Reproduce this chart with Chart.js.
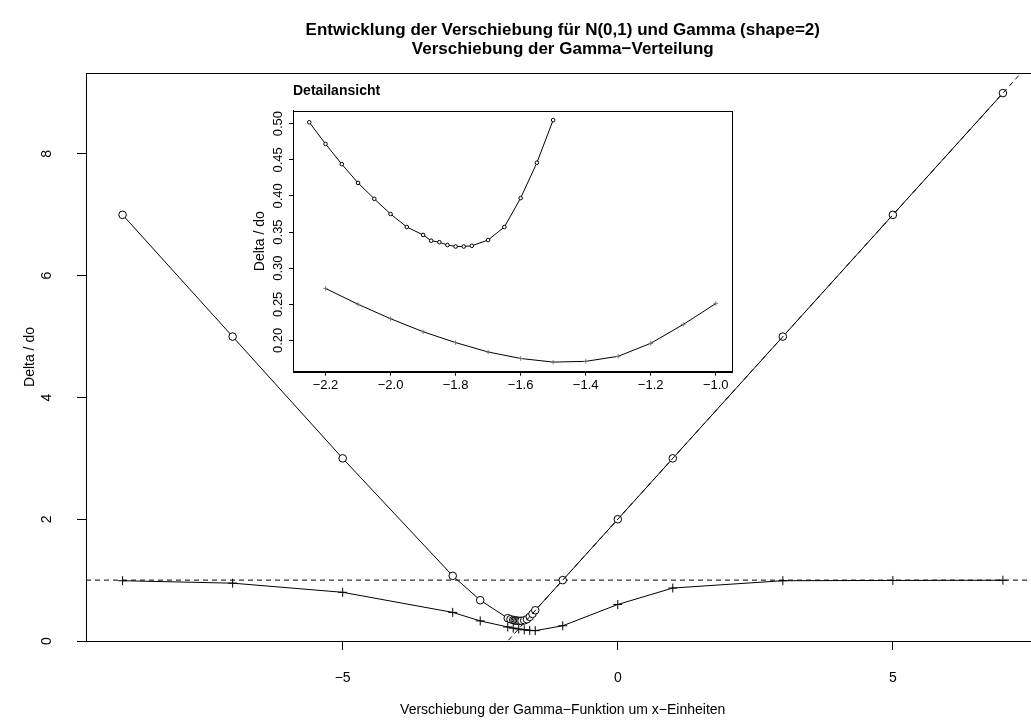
<!DOCTYPE html>
<html><head><meta charset="utf-8">
<script src="https://cdn.jsdelivr.net/npm/chart.js@4/dist/chart.umd.min.js"></script>
<style>
html,body{margin:0;padding:0;background:#fff;overflow:hidden;width:1031px;height:720px;}
#wrap{position:relative;width:1045px;height:720px;}
canvas{position:absolute;left:0;top:0;}
</style></head><body>
<div id="wrap"><canvas id="main" width="1045" height="720"></canvas><canvas id="inset" width="1045" height="720"></canvas></div>
<script>
// ---- data ----
const mainTitle = ['Entwicklung der Verschiebung für N(0,1) und Gamma (shape=2)', 'Verschiebung der Gamma\u2212Verteilung'];
const xLabel = 'Verschiebung der Gamma\u2212Funktion um x\u2212Einheiten';
const yLabel = 'Delta / do';
const insetTitle = 'Detailansicht';

const mainUpperX = [-9, -7, -5, -3, -2.5, -2.0, -1.95, -1.9, -1.875, -1.85, -1.825, -1.8, -1.775, -1.75, -1.7, -1.65, -1.6, -1.55, -1.5, -1, 0, 1, 3, 5, 7];
const mainUpperY = [7.0, 5.0, 3.0, 1.07, 0.67, 0.375, 0.357, 0.346, 0.338, 0.336, 0.332, 0.330, 0.330, 0.331, 0.339, 0.357, 0.397, 0.446, 0.505, 1.0, 2.0, 3.0, 5.0, 7.0, 9.0];
const mainLowerX = [-9, -7, -5, -3, -2.5, -2.0, -1.9, -1.8, -1.7, -1.6, -1.5, -1, 0, 1, 3, 5, 7];
const mainLowerY = [0.99, 0.95, 0.80, 0.47, 0.33, 0.230, 0.212, 0.197, 0.184, 0.175, 0.170, 0.25, 0.60, 0.87, 0.99, 0.995, 0.998];

const insetUpperX = [-2.25, -2.2, -2.15, -2.1, -2.05, -2.0, -1.95, -1.9, -1.875, -1.85, -1.825, -1.8, -1.775, -1.75, -1.7, -1.65, -1.6, -1.55, -1.5];
const insetUpperY = [0.502, 0.472, 0.444, 0.418, 0.396, 0.375, 0.357, 0.346, 0.338, 0.336, 0.332, 0.330, 0.330, 0.331, 0.339, 0.357, 0.397, 0.446, 0.505];
const insetLowerX = [-2.2, -2.1, -2.0, -1.9, -1.8, -1.7, -1.6, -1.5, -1.4, -1.3, -1.2, -1.1, -1.0];
const insetLowerY = [0.272, 0.250, 0.230, 0.212, 0.197, 0.184, 0.175, 0.170, 0.171, 0.178, 0.196, 0.222, 0.251];

const refLevel = 1;          // horizontal dashed reference line
const ablineIntercept = 2;   // dashed line y = a + b*x
const ablineSlope = 1;

const mainXTicks = [-5, 0, 5];
const mainYTicks = [0, 2, 4, 6, 8];
const insetXTicks = [-2.2, -2.0, -1.8, -1.6, -1.4, -1.2, -1.0];
const insetYTicks = [0.20, 0.25, 0.30, 0.35, 0.40, 0.45, 0.50];

// ---- helpers ----
const FONT = "'Liberation Sans', Arial, Helvetica, sans-serif";
const zip = (xs, ys) => xs.map((x, i) => ({x, y: ys[i]}));
const minus = s => s.replace('-', '\u2212');
const mainRange = {xMin: -9.665, xMax: 7.665, yMin: 0, yMax: 9.33};
const insetRange = {xMin: -2.3, xMax: -0.95, yMin: 0.1567, yMax: 0.518};

function fixedTicks(list) {
  return function(scale) { scale.ticks = list.map(v => ({value: v})); };
}

const framePlugin = {
  id: 'frame',
  afterDraw(chart, args, opts) {
    const {ctx, chartArea: a} = chart;
    ctx.save();
    ctx.strokeStyle = '#000';
    ctx.lineWidth = 1;
    ctx.strokeRect(Math.round(a.left) + 0.5, Math.round(a.top) + 0.5, Math.round(a.right - a.left), Math.round(a.bottom - a.top));
    // rotated y tick labels (R style, las=0)
    const ys = chart.scales.y;
    ctx.fillStyle = '#000';
    ctx.font = opts.size + 'px ' + FONT;
    ctx.textAlign = 'center';
    ctx.textBaseline = 'middle';
    ys.ticks.forEach(t => {
      const py = ys.getPixelForValue(t.value);
      ctx.save();
      ctx.translate(opts.x, py);
      ctx.rotate(-Math.PI / 2);
      ctx.fillText(opts.fmt(t.value), 0, 0);
      ctx.restore();
    });
    ctx.restore();
  }
};

// ---- main chart ----
new Chart(document.getElementById('main'), {
  type: 'scatter',
  data: {
    datasets: [
      {
        label: 'abline', order: 0,
        data: [{x: mainRange.xMin, y: ablineIntercept + ablineSlope * mainRange.xMin}, {x: mainRange.xMax, y: ablineIntercept + ablineSlope * mainRange.xMax}],
        showLine: true, borderColor: '#000', borderWidth: 1, borderDash: [5, 4], pointRadius: 0
      },
      {
        label: 'oben', order: 1,
        data: zip(mainUpperX, mainUpperY), showLine: true,
        borderColor: '#000', borderWidth: 1,
        pointStyle: 'circle', pointRadius: 3.8, pointBorderColor: '#000', pointBackgroundColor: '#fff', pointBorderWidth: 1
      },
      {
        label: 'unten', order: 1,
        data: zip(mainLowerX, mainLowerY), showLine: true,
        borderColor: '#000', borderWidth: 1,
        pointStyle: 'cross', pointRadius: 4.5, pointBorderColor: '#000', pointBorderWidth: 1
      },
      {
        label: 'ref', order: 2,
        data: [{x: mainRange.xMin, y: refLevel}, {x: mainRange.xMax, y: refLevel}],
        showLine: true, borderColor: '#000', borderWidth: 1, borderDash: [5, 4], pointRadius: 0
      }
    ]
  },
  options: {
    responsive: false, animation: false, events: [],
    layout: {padding: {left: 0, right: 1.5, top: 0, bottom: 0}},
    plugins: {
      legend: {display: false}, tooltip: {enabled: false},
      title: {display: true, text: mainTitle, fullSize: false, color: '#000',
        font: {family: FONT, size: 17, weight: 'bold', lineHeight: '19px'},
        padding: {top: 20.5, bottom: 14.5}},
      frame: {x: 47, size: 14, fmt: v => minus(String(v))}
    },
    scales: {
      x: {
        type: 'linear', min: mainRange.xMin, max: mainRange.xMax,
        afterBuildTicks: fixedTicks(mainXTicks),
        afterFit: s => { s.height = 79; },
        ticks: {color: '#000', font: {family: FONT, size: 14}, padding: 20, callback: v => minus(String(v)), autoSkip: false, maxRotation: 0},
        grid: {drawOnChartArea: false, drawTicks: true, tickLength: 9, tickColor: '#000'},
        border: {display: true, color: '#000', width: 1},
        title: {display: true, text: xLabel, color: '#000', font: {family: FONT, size: 14}, padding: {top: 0, bottom: 1.6}}
      },
      y: {
        type: 'linear', min: mainRange.yMin, max: mainRange.yMax,
        afterBuildTicks: fixedTicks(mainYTicks),
        afterFit: s => { s.width = 86; },
        ticks: {display: false},
        grid: {drawOnChartArea: false, drawTicks: true, tickLength: 9, tickColor: '#000'},
        border: {display: true, color: '#000', width: 1},
        title: {display: true, text: yLabel, color: '#000', font: {family: FONT, size: 14}, padding: {top: 21.6, bottom: 0}}
      }
    }
  },
  plugins: [framePlugin]
});

// ---- inset chart ----
new Chart(document.getElementById('inset'), {
  type: 'scatter',
  data: {
    datasets: [
      {
        label: 'oben', data: zip(insetUpperX, insetUpperY), showLine: true,
        borderColor: '#000', borderWidth: 1,
        pointStyle: 'circle', pointRadius: 1.8, pointBorderColor: '#000', pointBackgroundColor: '#fff', pointBorderWidth: 1
      },
      {
        label: 'unten', data: zip(insetLowerX, insetLowerY), showLine: true,
        borderColor: '#000', borderWidth: 1,
        pointStyle: 'cross', pointRadius: 2.2, pointBorderColor: '#777', pointBorderWidth: 1
      }
    ]
  },
  options: {
    responsive: false, animation: false, events: [],
    layout: {padding: {left: 0, right: 313, top: 0, bottom: 0}},
    plugins: {
      legend: {display: false}, tooltip: {enabled: false},
      title: {display: true, text: insetTitle, align: 'start', fullSize: false, color: '#000',
        font: {family: FONT, size: 14, weight: 'bold', lineHeight: '16.8px'},
        padding: {top: 82.6, bottom: 11.3}},
      frame: {x: 278.5, size: 13, fmt: v => v.toFixed(2)}
    },
    scales: {
      x: {
        type: 'linear', min: insetRange.xMin, max: insetRange.xMax,
        afterBuildTicks: fixedTicks(insetXTicks),
        afterFit: s => { s.height = 348.3; },
        ticks: {color: '#000', font: {family: FONT, size: 13}, padding: 2, callback: v => minus(v.toFixed(1)), autoSkip: false, maxRotation: 0},
        grid: {drawOnChartArea: false, drawTicks: true, tickLength: 4, tickColor: '#000'},
        border: {display: true, color: '#000', width: 1}
      },
      y: {
        type: 'linear', min: insetRange.yMin, max: insetRange.yMax,
        afterBuildTicks: fixedTicks(insetYTicks),
        afterFit: s => { s.width = 293; },
        ticks: {display: false},
        grid: {drawOnChartArea: false, drawTicks: true, tickLength: 4, tickColor: '#000'},
        border: {display: true, color: '#000', width: 1},
        title: {display: true, text: yLabel, color: '#000', font: {family: FONT, size: 14}, padding: {top: 251.6, bottom: 0}}
      }
    }
  },
  plugins: [framePlugin]
});
</script>
</body></html>
